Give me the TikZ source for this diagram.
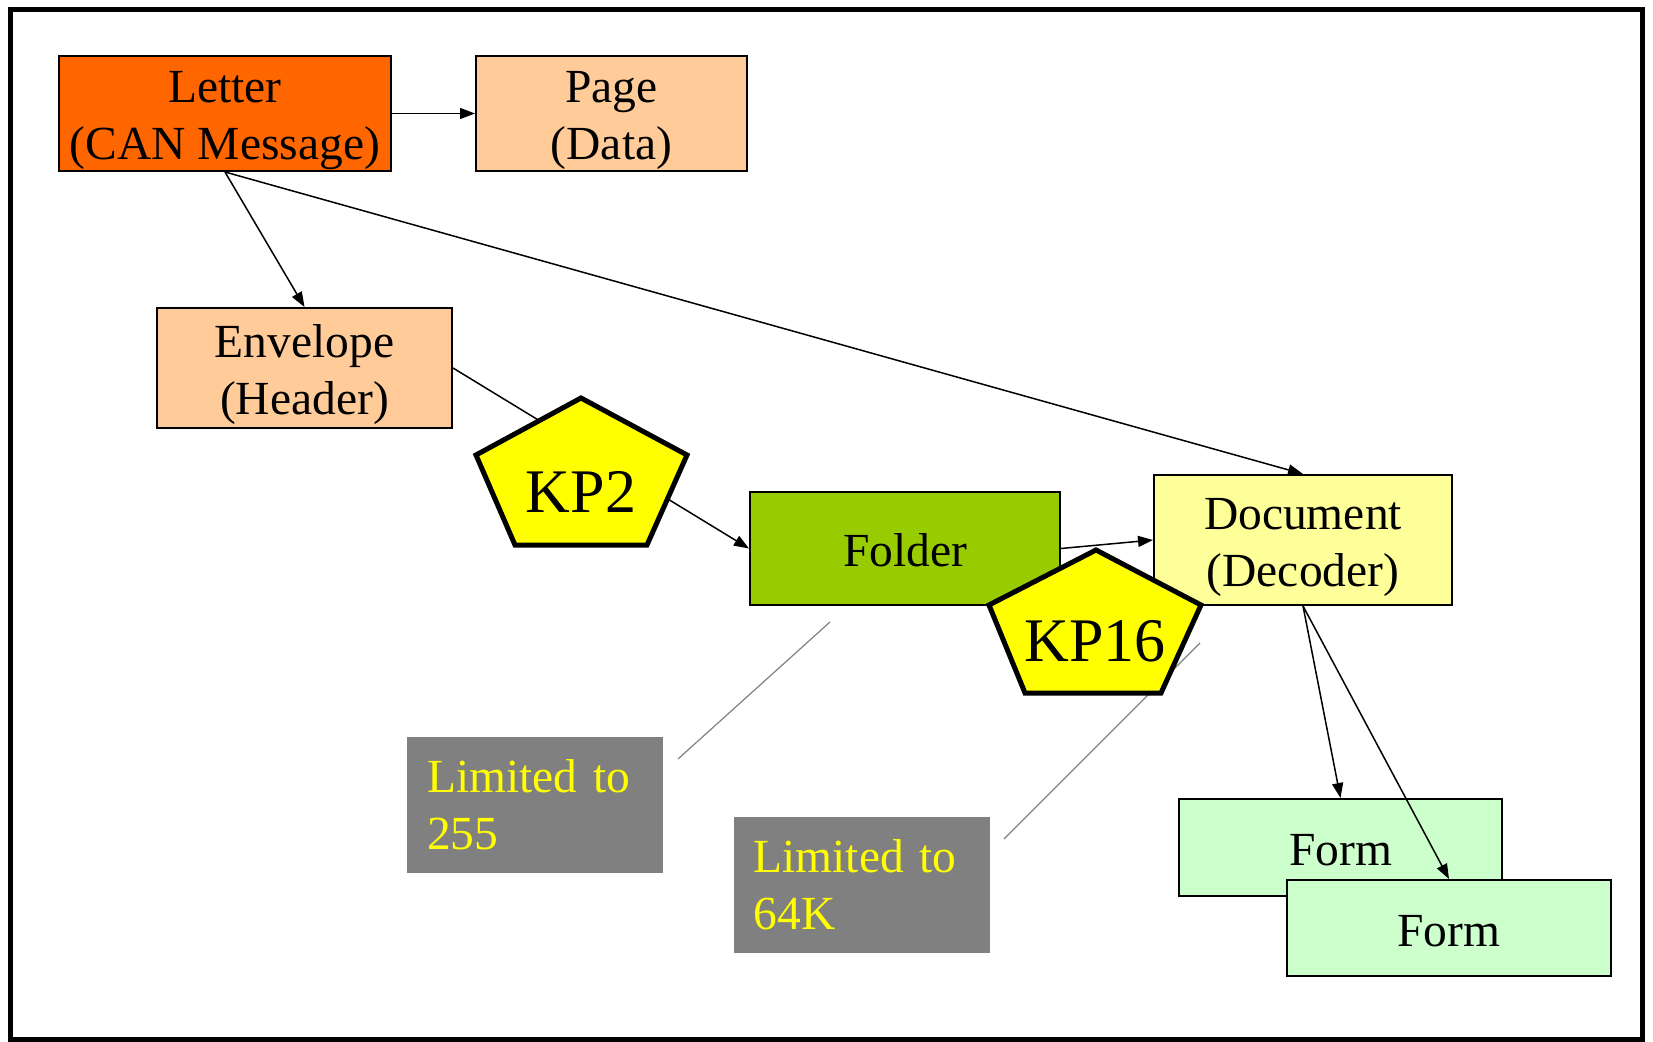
\documentclass[tikz,border=0pt]{standalone}
\usepackage{fontspec}
\setmainfont{Liberation Serif}
\usetikzlibrary{arrows.meta}

\definecolor{letterorange}{HTML}{FF6600}
\definecolor{peach}{HTML}{FFCC99}
\definecolor{foldergreen}{HTML}{99CC00}
\definecolor{docyellow}{HTML}{FFFF99}
\definecolor{formgreen}{HTML}{CCFFCC}
\definecolor{kpyellow}{HTML}{FFFF00}
\definecolor{notegray}{HTML}{808080}

\newcommand{\linestrut}{\rule[-5.25pt]{0pt}{28.5pt}}

\begin{document}
\begin{tikzpicture}[x=0.5pt, y=-0.5pt, >={Triangle[length=7.5pt,width=5.5pt]},
  box/.style={draw, line width=1pt, inner sep=0pt, align=center, font=\fontsize{23.75}{28.5}\selectfont},
  note/.style={fill=notegray, text=kpyellow, inner sep=0pt, inner xsep=10pt, align=left, text width=108pt, minimum height=68pt, font=\fontsize{23.75}{28.5}\selectfont},
  link/.style={->, line width=0.75pt},
  callout/.style={notegray, line width=0.6pt},
  kp/.style={draw, fill=kpyellow, line width=2.5pt, line join=miter}]
  \useasboundingbox (0,0) rectangle (1653,1042);

  % 1. Khung ngoai
  \draw[line width=2.5pt] (10.5,10) rectangle (1642,1039);

  % 2. Cac hop chinh
  \node[box, fill=letterorange, minimum width=166pt, minimum height=57.5pt] (letter) at (225,113.5) {\linestrut Letter\\(CAN Message)\linestrut};
  \node[box, fill=peach, minimum width=135.5pt, minimum height=57.5pt] (page) at (611.5,113.5) {\linestrut Page\\(Data)\linestrut};
  \node[box, fill=peach, minimum width=147.5pt, minimum height=60pt] (envelope) at (304.5,368) {\linestrut Envelope\\(Header)\linestrut};
  \node[box, fill=foldergreen, minimum width=155pt, minimum height=56.5pt] (folder) at (905,548.5) {\linestrut Folder};
  \node[box, fill=docyellow, minimum width=149pt, minimum height=65pt] (document) at (1303,540) {\linestrut Document\\(Decoder)\linestrut};
  \node[box, fill=formgreen, minimum width=161.5pt, minimum height=48.5pt] (form1) at (1340.5,847.5) {\linestrut Form};
  \node[box, fill=formgreen, minimum width=162pt, minimum height=48pt] (form2) at (1449,928) {\linestrut Form};

  % 3. Ghi chu mau xam
  \node[note, minimum width=128pt] (lim255) at (535,805) {Limited to\\255};
  \node[note, minimum width=127.5pt] (lim64k) at (861.5,885) {Limited to\\64K};

  % 4. Cac mui ten noi
  \draw[link] (letter.east) -- (page.west);
  \draw[link] (letter.south) -- (envelope.north);
  \draw[link] (letter.south) -- (document.north);
  \draw[link] (envelope.east) -- (folder.west);
  \draw[link] (folder.east) -- (document.west);
  \draw[link] (document.south) -- (form1.north);
  \draw[link] (document.south) -- (form2.north);

  % 5. Duong chi dan cua ghi chu
  \coordinate (c255) at (678,759);
  \coordinate (cfolder) at (830,622);
  \coordinate (c64k) at (1004,839);
  \coordinate (ckp) at (1200,643);
  \draw[callout] (c255) -- (cfolder);
  \draw[callout] (c64k) -- (ckp);

  % 6. Hai ngu giac KP (ve sau cung de nam tren)
  \coordinate (A1) at (581,398);
  \coordinate (B1) at (687,455);
  \coordinate (C1) at (647,545);
  \coordinate (D1) at (515,545);
  \coordinate (E1) at (476,455);
  \draw[kp] (A1) -- (B1) -- (C1) -- (D1) -- (E1) -- cycle;
  \node[font=\fontsize{31}{37}\selectfont] (kp2) at (581,492) {KP2};

  \coordinate (A2) at (1096,550);
  \coordinate (B2) at (1201,605);
  \coordinate (C2) at (1161,693);
  \coordinate (D2) at (1025,693);
  \coordinate (E2) at (989,605);
  \draw[kp] (A2) -- (B2) -- (C2) -- (D2) -- (E2) -- cycle;
  \node[font=\fontsize{31}{37}\selectfont] (kp16) at (1095,641) {KP16};
\end{tikzpicture}
\end{document}
